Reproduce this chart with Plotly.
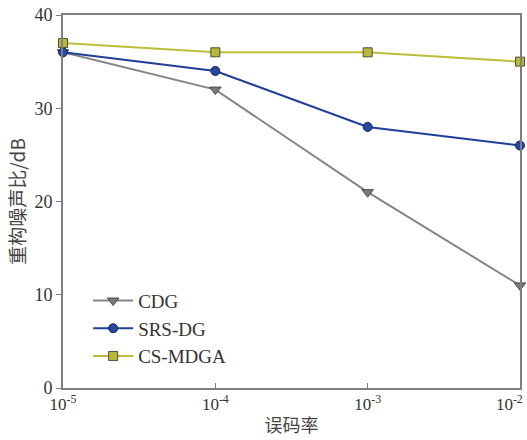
import plotly.graph_objects as go

# Bit error rates and reconstructed SNR (dB) per method
ber = [1e-5, 1e-4, 1e-3, 1e-2]
ber_labels = ["10<sup>-5</sup>", "10<sup>-4</sup>", "10<sup>-3</sup>", "10<sup>-2</sup>"]
snr_cdg = [36, 32, 21, 11]
snr_srsdg = [36, 34, 28, 26]
snr_csmdga = [37, 36, 36, 35]

serif = "Liberation Serif, Times New Roman, serif"
cjk = "Noto Sans CJK SC, sans-serif"
axis_gray = "#7f7f7f"
text_col = "#333333"

# the rightmost label sits at the plot edge; pad it so it stays inside the page
tick_text = ber_labels[:-1] + [ber_labels[-1] + "&nbsp;" * 5]

fig = go.Figure()
fig.add_trace(go.Scatter(
    x=ber, y=snr_cdg, name="CDG", mode="lines+markers",
    line=dict(color="#858585", width=2),
    marker=dict(symbol="triangle-down", size=10, color="#7a7a7a",
                line=dict(color="#4a4a4a", width=1)),
    cliponaxis=False))
fig.add_trace(go.Scatter(
    x=ber, y=snr_srsdg, name="SRS-DG", mode="lines+markers",
    line=dict(color="#1f3f99", width=2),
    marker=dict(symbol="circle", size=9, color="#2747a0",
                line=dict(color="#14255a", width=1)),
    cliponaxis=False))
fig.add_trace(go.Scatter(
    x=ber, y=snr_csmdga, name="CS-MDGA", mode="lines+markers",
    line=dict(color="#bdbd3a", width=2),
    marker=dict(symbol="square", size=9, color="#b8b83a",
                line=dict(color="#505030", width=1)),
    cliponaxis=False))

fig.update_layout(
    width=527, height=440,
    margin=dict(l=63, r=7, t=15, b=52),
    paper_bgcolor="white", plot_bgcolor="white",
    font=dict(family=serif, size=16, color=text_col),
    showlegend=True,
    legend=dict(x=0.055, y=0.285, xanchor="left", yanchor="top",
                bgcolor="rgba(0,0,0,0)", font=dict(family=serif, size=19, color=text_col),
                itemwidth=40, tracegroupgap=0),
    xaxis=dict(
        type="log", range=[-5.0002, -1.9998], tickvals=ber, ticktext=tick_text,
        ticks="inside", ticklen=5, tickcolor=axis_gray, ticklabeloverflow="allow",
        automargin=False,
        showline=True, linecolor=axis_gray, linewidth=2, mirror=True,
        showgrid=False, zeroline=False,
        tickfont=dict(family=serif, size=17, color=text_col),
        title=dict(text="误码率", font=dict(family=cjk, size=18, color="#444444"), standoff=6)),
    yaxis=dict(
        range=[0, 40], tickvals=[0, 10, 20, 30, 40],
        ticks="outside", ticklen=5, tickcolor=axis_gray,
        automargin=False,
        showline=True, linecolor=axis_gray, linewidth=2, mirror=True,
        showgrid=False, zeroline=False,
        tickfont=dict(family=serif, size=18, color=text_col),
        title=dict(text="重构噪声比/dB", font=dict(family=cjk, size=19, color="#444444"), standoff=4)),
)

fig.write_html("out.html")
